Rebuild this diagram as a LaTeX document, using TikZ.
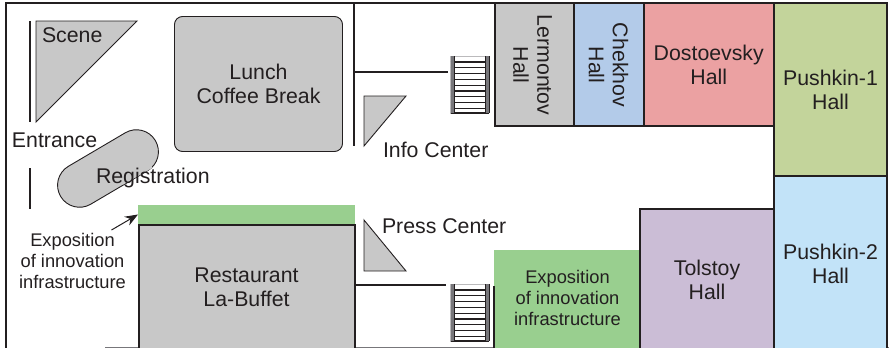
\documentclass[tikz,border=0pt]{standalone}
\usepackage{fontspec}
\setmainfont{Liberation Sans}
\usetikzlibrary{shapes.misc,arrows.meta}
\definecolor{ink}{HTML}{231F20}
\definecolor{roomgrey}{HTML}{C8C8C8}
\definecolor{expogreen}{HTML}{99CF8F}
\definecolor{railgrey}{HTML}{77767A}
\newcommand{\largetext}{\fontsize{21.3pt}{24pt}\selectfont}
\newcommand{\smalltext}{\fontsize{18.3pt}{21pt}\selectfont}
\tikzset{
  every node/.style={outer sep=0pt},
  wall/.style={draw=ink,line width=2pt},
  thinline/.style={draw=ink,line width=0.9pt},
  room/.style={draw=ink,line width=2pt,anchor=north west,inner sep=0pt,align=center,text=ink,font=\largetext},
  label/.style={anchor=base west,inner sep=0pt,text=ink,font=\largetext},
  smalllabel/.style={inner sep=0pt,align=center,text=ink,font=\smalltext},
  flightbox/.style={anchor=north west,inner sep=0pt,minimum width=38pt,minimum height=57pt,draw=railgrey!50,line width=0.5pt},
}
\newcommand{\flight}[2]{%
  \node[flightbox] (#1) at (#2) {};
  \begin{scope}[shift={(#1.north west)}]
    \foreach \s in {6,11.8,17.6,23.4,29.2,35,40.8,46.6,52.4}{
      \draw[ink,line width=1.1pt] (0,\s) -- (38,\s);
    }
    \draw[ink,line width=1.1pt] (0,57) -- (38,57);
    \fill[railgrey] (0,0) rectangle (3.4,57);
    \fill[railgrey] (35,0) rectangle (38.4,57);
    \draw[ink,line width=0.7pt] (3.4,0) -- (3.4,57) (35,0) -- (35,57) (38.4,0) -- (38.4,57);
  \end{scope}
}
\begin{document}
\begin{tikzpicture}[x=1pt,y=-1pt]
\useasboundingbox (0,0) rectangle (889,348);
% wall anchors
\coordinate (tl) at (6,3);
\coordinate (bl) at (6,349);
\coordinate (tr) at (887,3);
\coordinate (wallTop) at (354,3);
\coordinate (wallMid) at (354,146);
\coordinate (wallUpperJ) at (354,71.5);
\coordinate (wallLowerJ) at (354,284.5);
\coordinate (upperEnd) at (448,71.5);
\coordinate (lowerEnd) at (446,284.5);
\coordinate (entA) at (29.5,21);
\coordinate (entB) at (29.5,122);
\coordinate (entC) at (29.5,168);
\coordinate (entD) at (29.5,209);
\coordinate (floorA) at (105,347.3);
\coordinate (floorB) at (889,347.3);
\coordinate (expoLineA) at (494,286);
\coordinate (expoLineB) at (494,349);
\coordinate (arrowTail) at (111.5,230);

\draw[railgrey,line width=1.4pt] (floorA) -- (floorB);

% Halls
\node[room,fill=roomgrey,minimum width=79pt,minimum height=123pt] (lermontov) at (494.5,3) {};
\node[rotate=-90,align=center,text=ink,font=\largetext,inner sep=0pt] (lermontovtext) at (532.5,65) {Lermontov\\Hall};
\node[room,fill={rgb,255:red,179;green,203;blue,233},minimum width=70pt,minimum height=123pt] (chekhov) at (573.5,3) {};
\node[rotate=-90,align=center,text=ink,font=\largetext,inner sep=0pt] (chekhovtext) at (608.5,65) {Chekhov\\Hall};
\node[room,fill={rgb,255:red,235;green,161;blue,162},minimum width=130.5pt,minimum height=123pt] (dostoevsky) at (643.5,3) {Dostoevsky\\Hall};
\node[room,fill={rgb,255:red,195;green,212;blue,155},minimum width=113pt,minimum height=173pt] (pushkinA) at (774,3) {Pushkin-1\\Hall};
\node[room,fill={rgb,255:red,194;green,227;blue,248},minimum width=113pt,minimum height=175pt] (pushkinB) at (774,176) {Pushkin-2\\Hall};
\node[anchor=north west,fill=expogreen,minimum width=146pt,minimum height=100pt,inner sep=0pt] (expoHall) at (494,250) {};
\node[smalllabel] (expoHallText) at (567.5,297.5) {Exposition\\of innovation\\infrastructure};
\node[room,fill={rgb,255:red,203;green,189;blue,214},minimum width=134pt,minimum height=141pt] (tolstoy) at (640,209) {Tolstoy\\Hall};

% Outer walls
\draw[wall] (bl) -- (tl) -- (tr) -- (887,349);
\draw[wall] (wallTop) -- (wallMid);
\draw[wall] (wallUpperJ) -- (upperEnd);
\draw[wall] (wallLowerJ) -- (lowerEnd);
\draw[wall] (entA) -- (entB);
\draw[wall] (entC) -- (entD);
\draw[wall] (expoLineA) -- (expoLineB);

% Left column
\draw[thinline,fill=roomgrey] (36,21) -- (137,21) -- (36,122) -- cycle;
\node[label] (scene) at (42,42) {Scene};
\node[anchor=north west,draw=ink,line width=0.9pt,fill=roomgrey,rounded corners=8pt,minimum width=168pt,minimum height=135pt,inner sep=0pt,align=center,text=ink,font=\largetext] (lunch) at (174.5,16.5) {Lunch\\Coffee Break};
\node[label] (entrance) at (12,147) {Entrance};
\node[rounded rectangle,draw=ink,line width=0.9pt,fill=roomgrey,rotate=30.5,minimum width=110pt,minimum height=44pt,inner sep=0pt] (registrationShape) at (108,168.5) {};
\draw[roomgrey,line width=2pt] (122,184) -- (152,167);
\node[label] (registration) at (96,183) {Registration};

% Restaurant
\node[anchor=north west,fill=expogreen,minimum width=217pt,minimum height=19pt,inner sep=0pt] (greenbar) at (138,205) {};
\node[room,fill=roomgrey,minimum width=216pt,minimum height=126pt] (restaurant) at (138.5,224.5) {Restaurant\\La-Buffet};
\node[smalllabel] (expoText) at (72.5,261) {Exposition\\of innovation\\infrastructure};
\draw[ink,line width=1pt,-{Stealth[length=13pt,width=10pt]}] (arrowTail) -- (greenbar.west);

% Info and press
\draw[thinline,fill=roomgrey] (364,96) -- (406,96) -- (364,146) -- cycle;
\node[label] (info) at (383,157) {Info Center};
\draw[thinline,fill=roomgrey] (364,220) -- (406,271) -- (364,271) -- cycle;
\node[label] (press) at (382,233) {Press Center};

% Stairs
\flight{stairsUp}{450.5,56}
\flight{stairsDown}{450.5,284}
\end{tikzpicture}
\end{document}
